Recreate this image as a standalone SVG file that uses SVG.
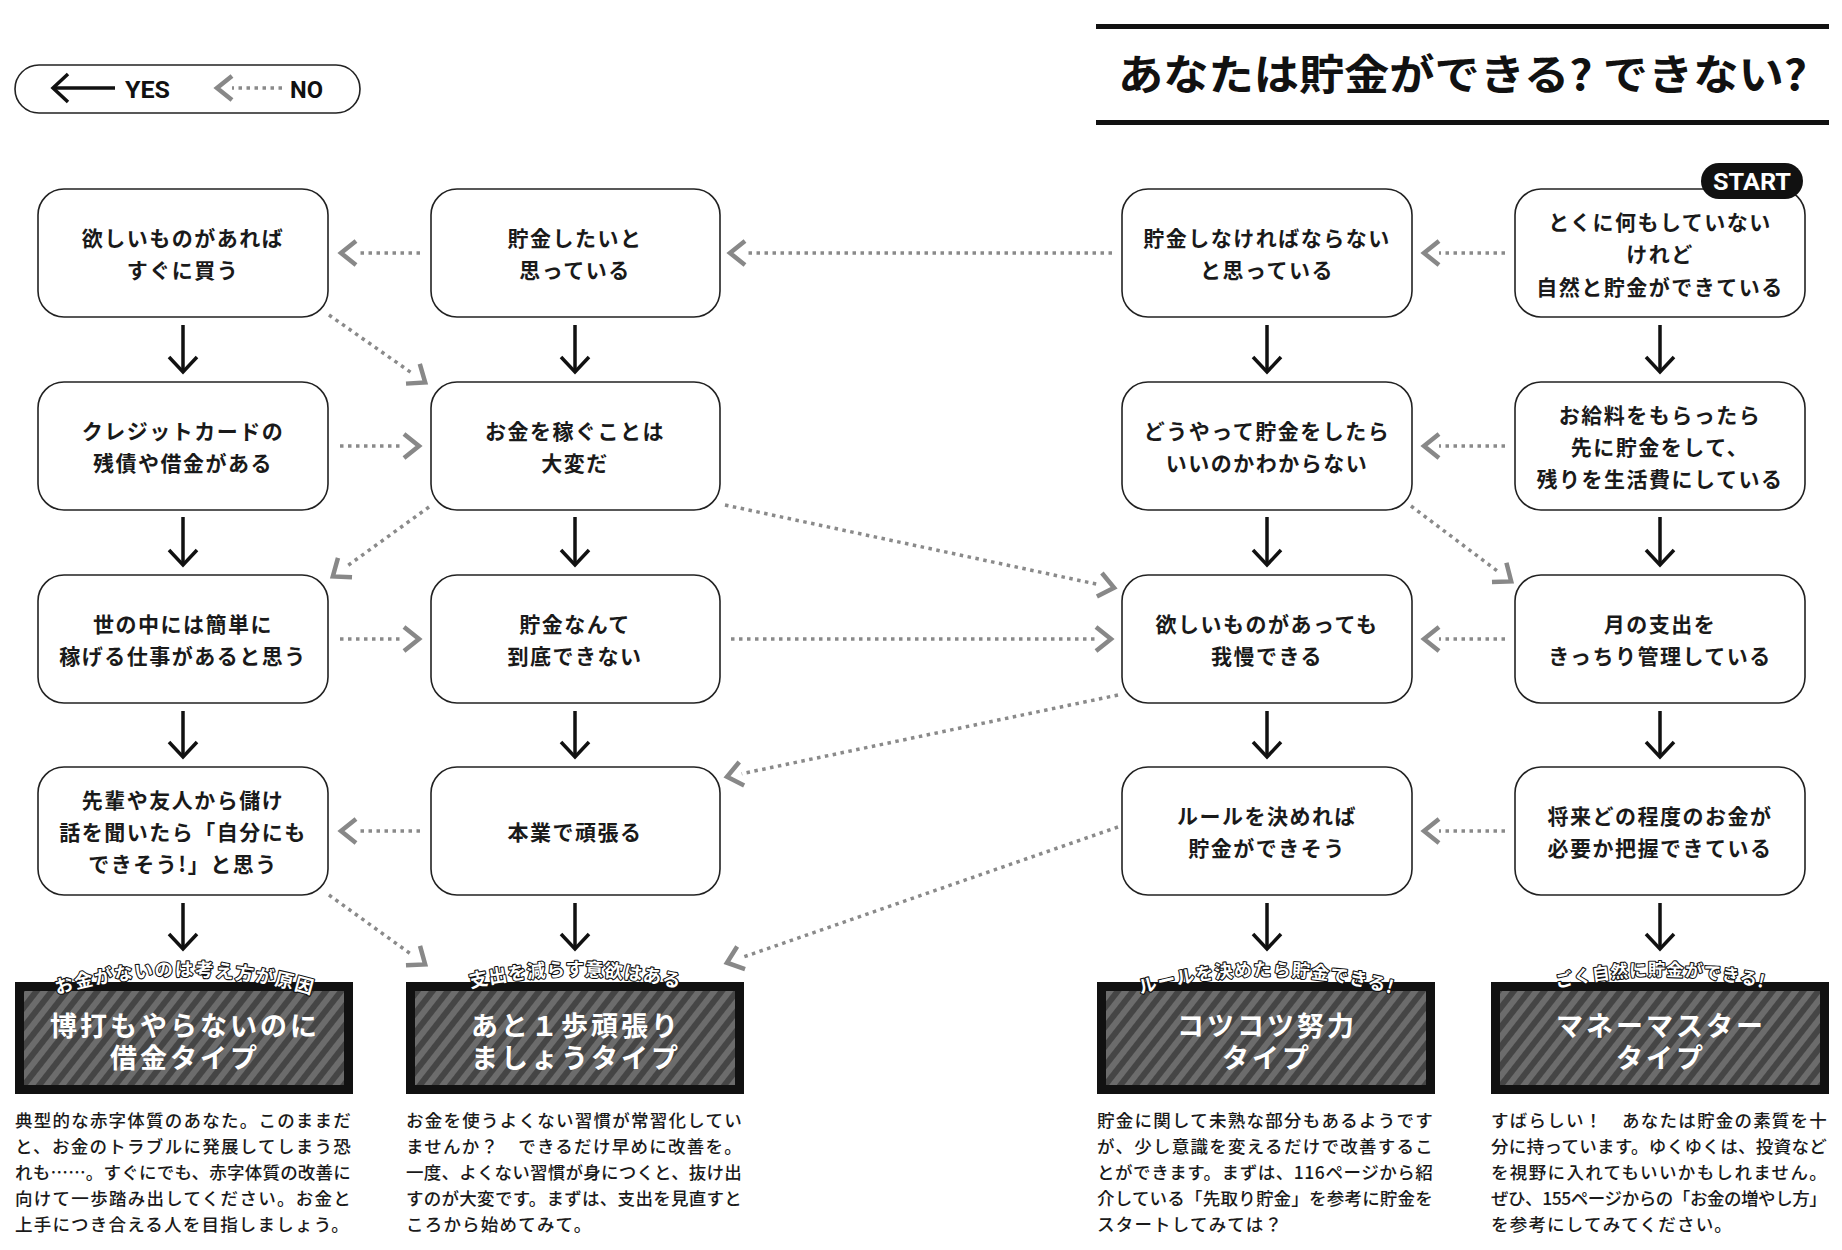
<svg xmlns="http://www.w3.org/2000/svg" width="1842" height="1250" viewBox="0 0 1842 1250">
<style>
.bg{fill:#fff}
.node rect{fill:#fff;stroke:#222;stroke-width:1.6}
.nt{font-family:'Noto Sans CJK JP','Noto Sans CJK SC',sans-serif;font-size:21px;font-weight:700;fill:#1a1a1a;text-anchor:middle;dominant-baseline:central;letter-spacing:1.5px}
.yes{fill:none;stroke:#111;stroke-width:3.5;marker-end:url(#ah)}
.no{fill:none;stroke:#8a8a8a;stroke-width:3.5;stroke-dasharray:3.5 4.5;marker-end:url(#nh)}
.frame{fill:#111}
.inner{fill:url(#stripes)}
.rt{font-family:'Noto Sans CJK JP','Noto Sans CJK SC',sans-serif;font-size:27px;font-weight:700;fill:#fff;text-anchor:middle;dominant-baseline:central;letter-spacing:3px}
.cap{font-family:'Noto Sans CJK JP','Noto Sans CJK SC',sans-serif;font-size:18.5px;font-weight:700;fill:#fff;stroke:#111;stroke-width:2.2;paint-order:stroke;stroke-linejoin:round;text-anchor:middle}
.desc{font-family:'Noto Sans CJK JP','Noto Sans CJK SC',sans-serif;font-size:17.5px;font-weight:500;fill:#1a1a1a;dominant-baseline:central;letter-spacing:1.2px}
.lat{font-family:Roboto,'Liberation Sans',sans-serif;font-weight:700;font-size:24px}
</style>
<defs>
<marker id="ah" markerUnits="userSpaceOnUse" markerWidth="40" markerHeight="40" viewBox="-20 -20 40 40" refX="0" refY="0" orient="auto" overflow="visible">
<path d="M-15,-14 L0,0 L-15,14" fill="none" stroke="#111" stroke-width="3.5"/>
</marker>
<marker id="nh" markerUnits="userSpaceOnUse" markerWidth="40" markerHeight="40" viewBox="-20 -20 40 40" refX="0" refY="0" orient="auto" overflow="visible">
<path d="M0,-12 L15,0 L0,12" fill="none" stroke="#888" stroke-width="4.5"/>
</marker>
<pattern id="stripes" patternUnits="userSpaceOnUse" width="12" height="12" patternTransform="rotate(38)">
<rect x="0" y="0" width="12" height="12" fill="#6c6c6c"/>
<rect x="0" y="0" width="6" height="12" fill="#454545"/>
</pattern>
<path id="arc1" d="M24,1005.4 A450,450 0 0 1 344,1005.4"/>
<path id="arc2" d="M415,1005.4 A450,450 0 0 1 735,1005.4"/>
<path id="arc3" d="M1106,1005.4 A450,450 0 0 1 1426,1005.4"/>
<path id="arc4" d="M1500,1005.4 A450,450 0 0 1 1820,1005.4"/>
</defs>
<rect class="bg" x="0" y="0" width="1842" height="1250"/>

<g id="legend">
<rect x="15" y="65" width="345" height="48" rx="24" fill="none" stroke="#222" stroke-width="1.6"/>
<path d="M115,88 H53" fill="none" stroke="#111" stroke-width="3.5" marker-end="url(#ah)"/>
<text class="lat" x="125" y="98" textLength="45" lengthAdjust="spacingAndGlyphs" fill="#111">YES</text>
<path d="M282,88 H232" fill="none" stroke="#8a8a8a" stroke-width="3.5" stroke-dasharray="3.5 4.5" marker-end="url(#nh)"/>
<text class="lat" x="290" y="98" textLength="33" lengthAdjust="spacingAndGlyphs" fill="#111">NO</text>
</g>

<g id="title">
<rect x="1096" y="24" width="733" height="5" fill="#111"/>
<rect x="1096" y="120" width="733" height="5" fill="#111"/>
<text x="1118" y="90" textLength="689" lengthAdjust="spacingAndGlyphs" style="font-family:'Noto Sans CJK JP','Noto Sans CJK SC',sans-serif;font-size:42px;font-weight:700;fill:#111">あなたは貯金ができる? できない?</text>
</g>

<g id="connectors">
<path class="yes" d="M183,325 V372"/>
<path class="yes" d="M183,517 V565"/>
<path class="yes" d="M183,711 V757"/>
<path class="yes" d="M183,903 V949"/>
<path class="yes" d="M575,325 V372"/>
<path class="yes" d="M575,517 V565"/>
<path class="yes" d="M575,711 V757"/>
<path class="yes" d="M575,903 V949"/>
<path class="yes" d="M1267,325 V372"/>
<path class="yes" d="M1267,517 V565"/>
<path class="yes" d="M1267,711 V757"/>
<path class="yes" d="M1267,903 V949"/>
<path class="yes" d="M1660,325 V372"/>
<path class="yes" d="M1660,517 V565"/>
<path class="yes" d="M1660,711 V757"/>
<path class="yes" d="M1660,903 V949"/>

<path class="no" d="M420,253 H356"/>
<path class="no" d="M340,446 H404"/>
<path class="no" d="M340,639 H404"/>
<path class="no" d="M420,831 H356"/>
<path class="no" d="M1112,253 H745"/>
<path class="no" d="M731,639 H1096"/>
<path class="no" d="M1505,253 H1439"/>
<path class="no" d="M1505,446 H1439"/>
<path class="no" d="M1505,639 H1439"/>
<path class="no" d="M1505,831 H1439"/>

<path class="no" d="M329,315 L412.9,373.8"/>
<path class="no" d="M429,507 L345,567.6"/>
<path class="no" d="M725,505 L1099.4,584.7"/>
<path class="no" d="M1118,695 L741.7,773.7"/>
<path class="no" d="M1118,827 L741.1,957.8"/>
<path class="no" d="M329,895 L413,955.6"/>
<path class="no" d="M1411,506 L1499.2,572.4"/>
</g>

<g id="n11" class="node"><rect x="38" y="189" width="290" height="128" rx="26"/>
<text class="nt" x="183" y="237">欲しいものがあれば</text><text class="nt" x="183" y="269">すぐに買う</text></g>
<g id="n12" class="node"><rect x="38" y="382" width="290" height="128" rx="26"/>
<text class="nt" x="183" y="430">クレジットカードの</text><text class="nt" x="183" y="462">残債や借金がある</text></g>
<g id="n13" class="node"><rect x="38" y="575" width="290" height="128" rx="26"/>
<text class="nt" x="183" y="623">世の中には簡単に</text><text class="nt" x="183" y="655">稼げる仕事があると思う</text></g>
<g id="n14" class="node"><rect x="38" y="767" width="290" height="128" rx="26"/>
<text class="nt" x="183" y="799">先輩や友人から儲け</text><text class="nt" x="183" y="831">話を聞いたら「自分にも</text><text class="nt" x="183" y="863">できそう!」と思う</text></g>

<g id="n21" class="node"><rect x="431" y="189" width="289" height="128" rx="26"/>
<text class="nt" x="575" y="237">貯金したいと</text><text class="nt" x="575" y="269">思っている</text></g>
<g id="n22" class="node"><rect x="431" y="382" width="289" height="128" rx="26"/>
<text class="nt" x="575" y="430">お金を稼ぐことは</text><text class="nt" x="575" y="462">大変だ</text></g>
<g id="n23" class="node"><rect x="431" y="575" width="289" height="128" rx="26"/>
<text class="nt" x="575" y="623">貯金なんて</text><text class="nt" x="575" y="655">到底できない</text></g>
<g id="n24" class="node"><rect x="431" y="767" width="289" height="128" rx="26"/>
<text class="nt" x="575" y="831">本業で頑張る</text></g>

<g id="n31" class="node"><rect x="1122" y="189" width="290" height="128" rx="26"/>
<text class="nt" x="1267" y="237">貯金しなければならない</text><text class="nt" x="1267" y="269">と思っている</text></g>
<g id="n32" class="node"><rect x="1122" y="382" width="290" height="128" rx="26"/>
<text class="nt" x="1267" y="430">どうやって貯金をしたら</text><text class="nt" x="1267" y="462">いいのかわからない</text></g>
<g id="n33" class="node"><rect x="1122" y="575" width="290" height="128" rx="26"/>
<text class="nt" x="1267" y="623">欲しいものがあっても</text><text class="nt" x="1267" y="655">我慢できる</text></g>
<g id="n34" class="node"><rect x="1122" y="767" width="290" height="128" rx="26"/>
<text class="nt" x="1267" y="815">ルールを決めれば</text><text class="nt" x="1267" y="847">貯金ができそう</text></g>

<g id="n41" class="node"><rect x="1515" y="189" width="290" height="128" rx="26"/>
<text class="nt" x="1660" y="221">とくに何もしていない</text><text class="nt" x="1660" y="253">けれど</text><text class="nt" x="1660" y="286">自然と貯金ができている</text></g>
<g id="n42" class="node"><rect x="1515" y="382" width="290" height="128" rx="26"/>
<text class="nt" x="1660" y="414">お給料をもらったら</text><text class="nt" x="1660" y="446">先に貯金をして、</text><text class="nt" x="1660" y="478">残りを生活費にしている</text></g>
<g id="n43" class="node"><rect x="1515" y="575" width="290" height="128" rx="26"/>
<text class="nt" x="1660" y="623">月の支出を</text><text class="nt" x="1660" y="655">きっちり管理している</text></g>
<g id="n44" class="node"><rect x="1515" y="767" width="290" height="128" rx="26"/>
<text class="nt" x="1660" y="815">将来どの程度のお金が</text><text class="nt" x="1660" y="847">必要か把握できている</text></g>

<g id="start">
<rect x="1701" y="163" width="102" height="36" rx="18" fill="#111"/>
<text class="lat" x="1713" y="190" textLength="78" lengthAdjust="spacingAndGlyphs" fill="#fff">START</text>
</g>

<g id="r1">
<rect class="frame" x="15" y="982" width="338" height="112"/>
<rect class="inner" x="24" y="991" width="320" height="94"/>
<text class="rt" x="185" y="1024">博打もやらないのに</text>
<text class="rt" x="185" y="1056">借金タイプ</text>
<text class="cap"><textPath href="#arc1" startOffset="50%" textLength="258" lengthAdjust="spacing">お金がないのは考え方が原因</textPath></text>
</g>
<g id="r2">
<rect class="frame" x="406" y="982" width="338" height="112"/>
<rect class="inner" x="415" y="991" width="320" height="94"/>
<text class="rt" x="576" y="1024">あと１歩頑張り</text>
<text class="rt" x="576" y="1056">ましょうタイプ</text>
<text class="cap"><textPath href="#arc2" startOffset="50%" textLength="210" lengthAdjust="spacing">支出を減らす意欲はある</textPath></text>
</g>
<g id="r3">
<rect class="frame" x="1097" y="982" width="338" height="112"/>
<rect class="inner" x="1106" y="991" width="320" height="94"/>
<text class="rt" x="1267" y="1024">コツコツ努力</text>
<text class="rt" x="1267" y="1056">タイプ</text>
<text class="cap" style="font-size:18px"><textPath href="#arc3" startOffset="50%" textLength="254" lengthAdjust="spacing">ルールを決めたら貯金できる!</textPath></text>
</g>
<g id="r4">
<rect class="frame" x="1491" y="982" width="338" height="112"/>
<rect class="inner" x="1500" y="991" width="320" height="94"/>
<text class="rt" x="1661" y="1024">マネーマスター</text>
<text class="rt" x="1661" y="1056">タイプ</text>
<text class="cap" style="font-size:17.5px"><textPath href="#arc4" startOffset="50%" textLength="208" lengthAdjust="spacing">ごく自然に貯金ができる!</textPath></text>
</g>

<g id="desc1">
<text class="desc" x="15" y="1119" textLength="337">典型的な赤字体質のあなた。このままだ</text>
<text class="desc" x="15" y="1145" textLength="337">と、お金のトラブルに発展してしまう恐</text>
<text class="desc" x="15" y="1171" textLength="337">れも……。すぐにでも、赤字体質の改善に</text>
<text class="desc" x="15" y="1197" textLength="337">向けて一歩踏み出してください。お金と</text>
<text class="desc" x="15" y="1223">上手につき合える人を目指しましょう。</text>
</g>
<g id="desc2">
<text class="desc" x="406" y="1119" textLength="337">お金を使うよくない習慣が常習化してい</text>
<text class="desc" x="406" y="1145" textLength="337">ませんか？　できるだけ早めに改善を。</text>
<text class="desc" x="406" y="1171" textLength="337">一度、よくない習慣が身につくと、抜け出</text>
<text class="desc" x="406" y="1197" textLength="337">すのが大変です。まずは、支出を見直すと</text>
<text class="desc" x="406" y="1223">ころから始めてみて。</text>
</g>
<g id="desc3">
<text class="desc" x="1097" y="1119" textLength="337">貯金に関して未熟な部分もあるようです</text>
<text class="desc" x="1097" y="1145" textLength="337">が、少し意識を変えるだけで改善するこ</text>
<text class="desc" x="1097" y="1171" textLength="337">とができます。まずは、116ページから紹</text>
<text class="desc" x="1097" y="1197" textLength="337">介している「先取り貯金」を参考に貯金を</text>
<text class="desc" x="1097" y="1223">スタートしてみては？</text>
</g>
<g id="desc4">
<text class="desc" x="1491" y="1119" textLength="337">すばらしい！　あなたは貯金の素質を十</text>
<text class="desc" x="1491" y="1145" textLength="337">分に持っています。ゆくゆくは、投資など</text>
<text class="desc" x="1491" y="1171" textLength="337">を視野に入れてもいいかもしれません。</text>
<text class="desc" x="1491" y="1197" textLength="337">ぜひ、155ページからの「お金の増やし方」</text>
<text class="desc" x="1491" y="1223">を参考にしてみてください。</text>
</g>
</svg>
